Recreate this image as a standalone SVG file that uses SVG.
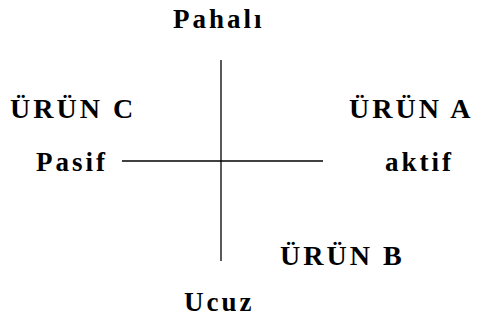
<svg xmlns="http://www.w3.org/2000/svg" width="482" height="336" viewBox="0 0 482 336">
<style>
text{font-family:"Liberation Serif","Times New Roman",serif;font-weight:bold;font-size:27px;fill:#000;letter-spacing:3px}
.u{font-size:28px}
.ax{stroke:#000;stroke-width:1.3;fill:none}
</style>
<rect width="482" height="336" fill="#fff"/>
<g id="connectors">
<line class="ax" x1="221" y1="60" x2="221" y2="261"/>
<line class="ax" x1="122" y1="161" x2="323" y2="161"/>
</g>
<g id="pahali"><text x="173" y="28">Pahalı</text></g>
<g id="ucuz"><text x="184" y="311">Ucuz</text></g>
<g id="pasif"><text x="36" y="171">Pasif</text></g>
<g id="aktif"><text x="385" y="171">aktif</text></g>
<g id="urun-c"><text class="u" x="10" y="118">ÜRÜN C</text></g>
<g id="urun-a"><text class="u" x="349" y="118">ÜRÜN A</text></g>
<g id="urun-b"><text class="u" x="280" y="265">ÜRÜN B</text></g>
</svg>
